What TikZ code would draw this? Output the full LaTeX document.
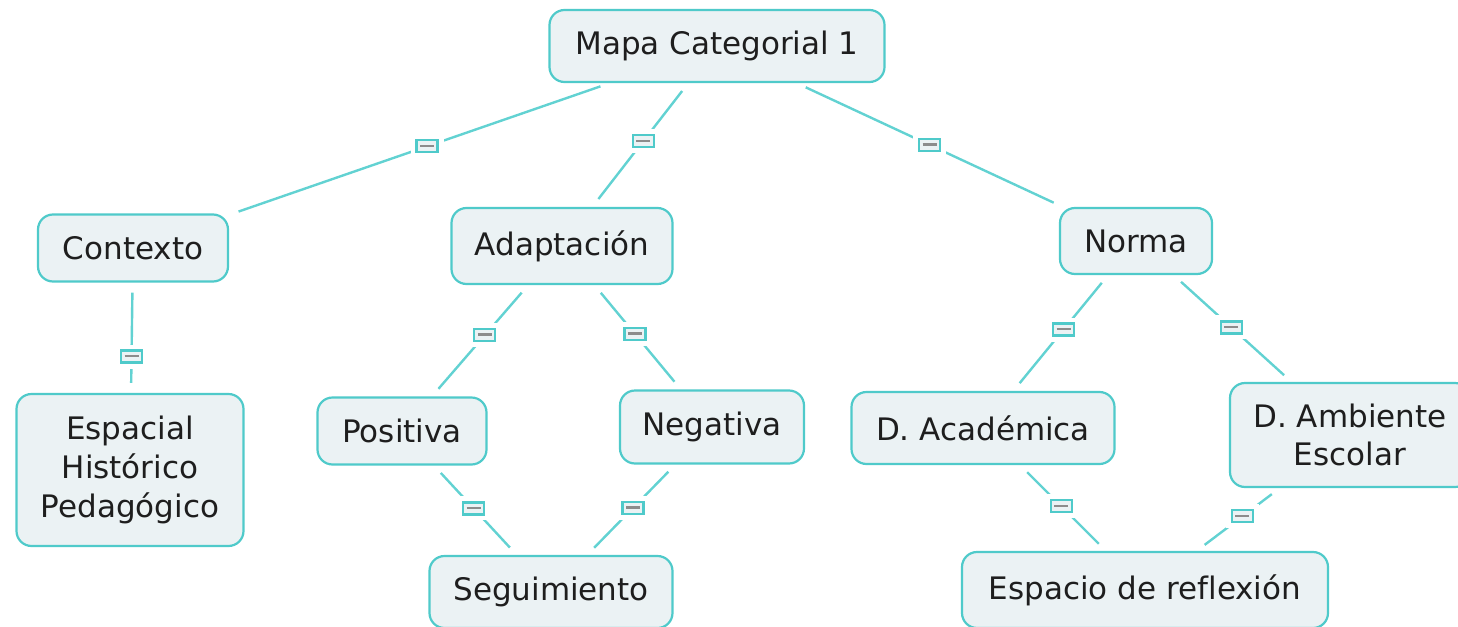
\documentclass[tikz,border=0pt]{standalone}
\usepackage{fontspec}
\setmainfont[Ligatures=CommonOff]{DejaVu Sans}
\usepackage{xcolor}
\usepackage{tikz}
\usetikzlibrary{positioning,calc}
\definecolor{Ink}{HTML}{1E1E1E}
\definecolor{Teal}{HTML}{4FCACA}
\definecolor{TealLine}{HTML}{62D2D2}
\definecolor{Pale}{HTML}{EBF2F4}
\definecolor{Bar}{HTML}{8C8C8C}
\newcommand{\linkbar}{{\color{Bar}\rule[0.4pt]{7pt}{1.3pt}}}
\tikzset{
  concept/.style={rounded corners=7.5pt,draw=Teal,fill=Pale,line width=1.1pt,align=center,
    text=Ink,font=\fontsize{15.5}{19.3}\selectfont,inner sep=0pt},
  link/.style={draw=TealLine,line width=1.2pt,shorten <=5pt,shorten >=5pt},
  linkbox/.style={draw=Teal,fill=Pale,line width=1.1pt,inner sep=0pt,minimum width=10.5pt,minimum height=6pt,
    font=\fontsize{2}{2}\selectfont,preaction={draw=white,line width=6pt}}
}
\begin{document}
\begin{tikzpicture}[x=0.5pt,y=-0.5pt]
  \useasboundingbox (0,0) rectangle (1458,627);
  % concepts
  \node[concept,minimum width=167.5pt,minimum height=36pt] (mapa) at (717,46) {Mapa Categorial 1};
  \node[concept,minimum width=95pt,minimum height=33.5pt] (contexto) at (133,248) {Contexto};
  \node[concept,minimum width=110.5pt,minimum height=38pt] (adapt) at (562,246) {Adaptación};
  \node[concept,minimum width=76pt,minimum height=33pt] (norma) at (1136,241) {Norma};
  \node[concept,minimum width=113.5pt,minimum height=76pt] (espacial) at (130,470) {Espacial\\Histórico\\Pedagógico};
  \node[concept,minimum width=84.5pt,minimum height=33.5pt] (positiva) at (402,431) {Positiva};
  \node[concept,minimum width=92pt,minimum height=36.5pt] (negativa) at (712,427) {Negativa};
  \node[concept,minimum width=131.5pt,minimum height=36pt] (academica) at (983,428) {D. Académica};
  \node[concept,minimum width=120pt,minimum height=52pt] (ambiente) at (1350,435) {D. Ambiente\\Escolar};
  \node[concept,minimum width=121.5pt,minimum height=36pt] (seguim) at (551,592) {Seguimiento};
  \node[concept,minimum width=183pt,minimum height=38pt] (reflex) at (1145,590) {Espacio de reflexión};
  % links
  \draw[link] (mapa) -- node[linkbox,pos=0.48] (l1) {\linkbar} (contexto);
  \draw[link] (mapa) -- node[linkbox,pos=0.47] (l2) {\linkbar} (adapt);
  \draw[link] (mapa) -- node[linkbox,pos=0.5] (l3) {\linkbar} (norma);
  \draw[link] (contexto) -- node[linkbox,pos=0.67] (l4) {\linkbar} (espacial);
  \draw[link] (adapt) -- node[linkbox,pos=0.45] (l5) {\linkbar} (positiva);
  \draw[link] (adapt) -- node[linkbox,pos=0.47] (l6) {\linkbar} (negativa);
  \draw[link] (positiva) -- node[linkbox,pos=0.48] (l7) {\linkbar} (seguim);
  \draw[link] (negativa) -- node[linkbox,pos=0.48] (l8) {\linkbar} (seguim);
  \draw[link] (norma) -- node[linkbox,pos=0.47] (l9) {\linkbar} (academica);
  \draw[link] (norma) -- node[linkbox,pos=0.49] (l10) {\linkbar} (ambiente);
  \draw[link] (academica) -- node[linkbox,pos=0.48] (l11) {\linkbar} (reflex);
  \draw[link] (ambiente) -- node[linkbox,pos=0.45] (l12) {\linkbar} (reflex);
\end{tikzpicture}
\end{document}
